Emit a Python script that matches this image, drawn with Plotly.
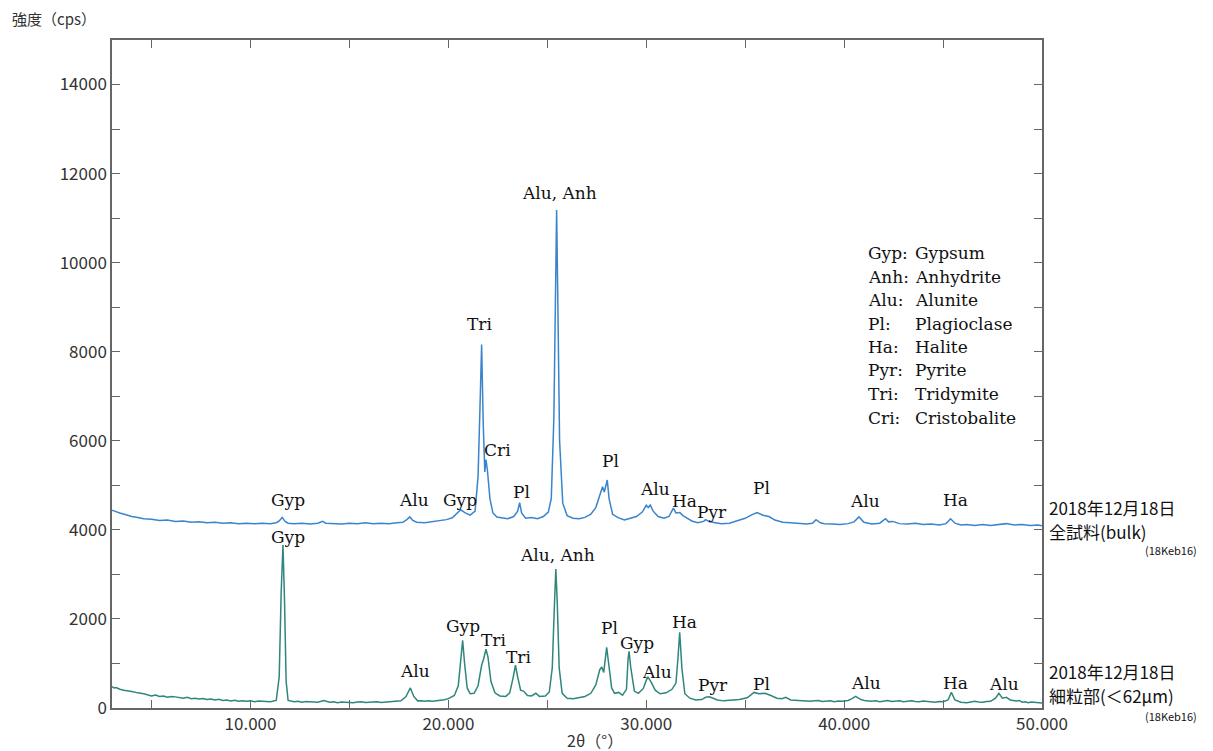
import plotly.graph_objects as go

# ---- data: (2theta, intensity cps) ----
bulk_pattern = [
    (3.0, 4440), (3.1, 4420), (3.2, 4410), (3.4, 4380), (3.6, 4350), (3.8, 4330), (4.0, 4300),
    (4.3, 4280), (4.6, 4250), (5.0, 4240), (5.4, 4210), (5.8, 4220), (6.2, 4190), (6.6, 4200),
    (7.0, 4170), (7.4, 4180), (7.8, 4160), (8.2, 4170), (8.6, 4150), (9.0, 4160), (9.4, 4140),
    (9.8, 4150), (10.2, 4140), (10.6, 4150), (11.0, 4140), (11.3, 4160), (11.45, 4200),
    (11.6, 4280), (11.75, 4190), (11.9, 4150), (12.2, 4140), (12.6, 4150), (13.0, 4130),
    (13.4, 4150), (13.65, 4190), (13.8, 4150), (14.2, 4140), (14.6, 4130), (15.0, 4150),
    (15.4, 4140), (15.8, 4160), (16.2, 4140), (16.6, 4150), (17.0, 4140), (17.4, 4160),
    (17.7, 4170), (17.9, 4230), (18.05, 4290), (18.2, 4210), (18.4, 4170), (18.8, 4160),
    (19.2, 4180), (19.6, 4200), (19.9, 4230), (20.2, 4270), (20.45, 4370), (20.62, 4450),
    (20.85, 4380), (21.1, 4330), (21.35, 4420), (21.5, 5200), (21.6, 6800), (21.68, 8160),
    (21.76, 6400), (21.84, 5300), (21.9, 5580), (21.97, 5350), (22.1, 4700), (22.25, 4380),
    (22.45, 4290), (22.7, 4270), (23.0, 4250), (23.3, 4300), (23.5, 4420), (23.6, 4610),
    (23.7, 4380), (23.9, 4260), (24.2, 4280), (24.5, 4250), (24.8, 4300), (25.05, 4400),
    (25.2, 4700), (25.33, 6500), (25.42, 10200), (25.47, 11180), (25.52, 9500), (25.62, 6000),
    (25.78, 4600), (26.0, 4320), (26.3, 4260), (26.6, 4250), (26.9, 4280), (27.2, 4350),
    (27.45, 4500), (27.65, 4800), (27.79, 4970), (27.88, 4850), (27.95, 5000), (28.03, 5120),
    (28.12, 4700), (28.3, 4350), (28.6, 4270), (28.9, 4220), (29.2, 4260), (29.5, 4300),
    (29.8, 4400), (30.0, 4550), (30.1, 4500), (30.2, 4560), (30.35, 4420), (30.6, 4300),
    (30.9, 4260), (31.15, 4300), (31.37, 4490), (31.5, 4380), (31.7, 4390), (31.85, 4320),
    (32.0, 4280), (32.3, 4200), (32.6, 4160), (32.9, 4190), (33.0, 4230), (33.2, 4180),
    (33.5, 4160), (33.8, 4140), (34.2, 4150), (34.6, 4200), (35.0, 4260), (35.3, 4330),
    (35.6, 4390), (35.9, 4330), (36.2, 4300), (36.5, 4220), (36.9, 4170), (37.3, 4160),
    (37.7, 4140), (38.1, 4130), (38.4, 4150), (38.58, 4230), (38.8, 4160), (39.0, 4140),
    (39.4, 4130), (39.8, 4120), (40.2, 4140), (40.5, 4180), (40.75, 4290), (41.0, 4170),
    (41.4, 4130), (41.8, 4150), (42.09, 4250), (42.25, 4180), (42.45, 4190), (42.8, 4140),
    (43.2, 4130), (43.6, 4150), (44.0, 4120), (44.4, 4130), (44.8, 4110), (45.15, 4140),
    (45.38, 4250), (45.6, 4150), (45.9, 4110), (46.2, 4120), (46.6, 4100), (47.0, 4120),
    (47.4, 4100), (47.8, 4120), (48.2, 4140), (48.6, 4110), (49.0, 4120), (49.4, 4100),
    (49.8, 4110), (50.0, 4090),
]

fine_pattern = [
    (3.0, 480), (3.1, 450), (3.2, 460), (3.4, 420), (3.6, 400), (3.8, 390), (4.0, 370),
    (4.3, 340), (4.6, 320), (5.0, 270), (5.2, 290), (5.4, 260), (5.6, 270), (5.8, 240),
    (6.0, 260), (6.2, 250), (6.4, 230), (6.6, 220), (6.8, 240), (7.0, 210), (7.2, 220),
    (7.4, 200), (7.6, 215), (7.8, 190), (8.0, 200), (8.2, 180), (8.4, 195), (8.6, 170),
    (8.8, 180), (9.0, 160), (9.2, 175), (9.4, 150), (9.6, 165), (9.8, 150), (10.0, 160),
    (10.2, 140), (10.4, 155), (10.6, 150), (10.8, 135), (11.0, 140), (11.3, 170), (11.45, 700),
    (11.55, 2600), (11.64, 3660), (11.72, 2400), (11.8, 600), (11.9, 170), (12.2, 140),
    (12.4, 150), (12.6, 130), (12.8, 145), (13.0, 140), (13.2, 125), (13.4, 130), (13.7, 170),
    (14.0, 130), (14.2, 140), (14.4, 120), (14.6, 135), (14.8, 130), (15.0, 115), (15.2, 120),
    (15.4, 135), (15.6, 140), (15.8, 125), (16.0, 130), (16.2, 145), (16.4, 140), (16.6, 125),
    (16.8, 130), (17.0, 145), (17.2, 140), (17.4, 150), (17.6, 160), (17.85, 250),
    (18.08, 450), (18.25, 260), (18.45, 160), (18.65, 165), (18.8, 150), (19.0, 160),
    (19.2, 150), (19.4, 165), (19.6, 170), (19.8, 185), (20.0, 210),
    (20.3, 280), (20.5, 500), (20.63, 1100), (20.72, 1520), (20.82, 1000), (20.95, 450),
    (21.1, 320), (21.3, 330), (21.5, 500), (21.68, 960), (21.78, 1100), (21.9, 1320),
    (22.0, 1150), (22.15, 600), (22.35, 340), (22.6, 270), (22.9, 260), (23.1, 340), (23.28, 700),
    (23.39, 960), (23.5, 700), (23.65, 400), (23.8, 380), (24.0, 280), (24.2, 270), (24.42, 330),
    (24.6, 260), (24.9, 270), (25.1, 360), (25.25, 900), (25.35, 2200), (25.43, 3120),
    (25.5, 2400), (25.6, 900), (25.75, 330), (26.0, 220), (26.3, 210), (26.6, 230), (26.9, 260),
    (27.2, 330), (27.45, 520), (27.65, 860), (27.75, 920), (27.85, 800), (27.95, 1250),
    (28.0, 1360), (28.1, 1000), (28.25, 450), (28.4, 330), (28.6, 350), (28.8, 290), (29.0, 420),
    (29.08, 1100), (29.13, 1270), (29.22, 900), (29.4, 380), (29.6, 330), (29.85, 440),
    (30.0, 620), (30.08, 700), (30.25, 580), (30.45, 400), (30.7, 320), (31.0, 340), (31.3, 420),
    (31.5, 560), (31.6, 1100), (31.69, 1700), (31.8, 900), (31.95, 320), (32.2, 220),
    (32.5, 180), (32.8, 190), (33.0, 240), (33.19, 250), (33.35, 220), (33.6, 180), (33.9, 160),
    (34.3, 170), (34.7, 190), (35.1, 230), (35.3, 290), (35.45, 350), (35.7, 320), (36.0, 330),
    (36.3, 280), (36.6, 220), (36.85, 210), (37.05, 240), (37.3, 180), (37.6, 170), (37.9, 160),
    (38.1, 170), (38.3, 150), (38.5, 160), (38.7, 170), (38.9, 145), (39.1, 150), (39.3, 160),
    (39.5, 140), (39.7, 155), (39.9, 150), (40.2, 170), (40.4, 210),
    (40.58, 260), (40.85, 190), (41.1, 160), (41.4, 150), (41.6, 160), (41.8, 140), (42.0, 150),
    (42.2, 170), (42.4, 145), (42.6, 150), (42.8, 160), (43.0, 140), (43.2, 150), (43.4, 160),
    (43.6, 145), (43.8, 140), (44.0, 155), (44.2, 150), (44.4, 140), (44.6, 130), (44.8, 145),
    (45.0, 140), (45.25, 180),
    (45.42, 350), (45.6, 180), (45.9, 130), (46.2, 120), (46.4, 140), (46.6, 150), (46.8, 135),
    (47.0, 130), (47.2, 145), (47.4, 150), (47.65, 220), (47.82, 330), (48.0, 220), (48.2, 240),
    (48.4, 180), (48.7, 160), (48.85, 170), (49.0, 130), (49.15, 140), (49.3, 120), (49.45, 135),
    (49.6, 130), (49.8, 120), (50.0, 110),
]

# peak labels: (text, 2theta, intensity)
bulk_labels = [
    ("Gyp", 11.88, 4674), ("Alu", 18.27, 4674), ("Gyp", 20.58, 4674), ("Tri", 21.59, 8628),
    ("Cri", 22.5, 5797), ("Pl", 23.69, 4860), ("Alu, Anh", 25.62, 11565), ("Pl", 28.2, 5557),
    ("Alu", 30.46, 4921), ("Ha", 31.92, 4651), ("Pyr", 33.34, 4411), ("Pl", 35.84, 4943),
    ("Alu", 41.05, 4651), ("Ha", 45.62, 4674),
]
fine_labels = [
    ("Gyp", 11.88, 3849), ("Alu", 18.32, 838), ("Gyp", 20.75, 1849), ("Tri", 22.3, 1528),
    ("Tri", 23.56, 1153), ("Alu, Anh", 25.51, 3438), ("Pl", 28.15, 1804), ("Gyp", 29.52, 1467),
    ("Alu", 30.53, 816), ("Ha", 31.92, 1939), ("Pyr", 33.35, 517), ("Pl", 35.84, 539),
    ("Alu", 41.08, 555), ("Ha", 45.65, 568), ("Alu", 48.1, 539),
]

legend_abbr = ["Gyp:", "Anh:", "Alu:", "Pl:", "Ha:", "Pyr:", "Tri:", "Cri:"]
legend_names = ["Gypsum", "Anhydrite", "Alunite", "Plagioclase", "Halite", "Pyrite",
                "Tridymite", "Cristobalite"]

y_tick_values = list(range(0, 15000, 1000))
y_tick_labels = [str(v) if v % 2000 == 0 else "" for v in y_tick_values]
x_tick_values = list(range(5, 55, 5))
x_tick_labels = [f"{v}.000" if v % 10 == 0 else "" for v in x_tick_values]

# ---- figure ----
W, H = 1213, 751
L, R, T, B = 112, 1042, 40, 708

def px_x(p):
    return (p - L) / (R - L)

def px_y(p):
    return (B - p) / (B - T)

fig = go.Figure()
fig.add_trace(go.Scatter(x=[p[0] for p in bulk_pattern], y=[p[1] for p in bulk_pattern],
                         mode="lines", line=dict(color="#3a84cc", width=1.5), showlegend=False))
fig.add_trace(go.Scatter(x=[p[0] for p in fine_pattern], y=[p[1] for p in fine_pattern],
                         mode="lines", line=dict(color="#2f867c", width=1.5), showlegend=False))

serif = "DejaVu Serif"
sans = "Noto Sans CJK JP"
ann = []
for txt, xv, yv in bulk_labels + fine_labels:
    ann.append(dict(x=xv, y=yv, xref="x", yref="y", text=txt, showarrow=False,
                    xanchor="center", yanchor="middle",
                    font=dict(family=serif, size=17, color="#111")))

legend_rows = [253, 276.5, 300, 323.5, 347, 370.5, 394, 418]
for a, n, py in zip(legend_abbr, legend_names, legend_rows):
    ann.append(dict(x=px_x(866), y=px_y(py), xref="paper", yref="paper", text=a,
                    showarrow=False, xanchor="left", yanchor="middle",
                    font=dict(family=serif, size=17, color="#111")))
    ann.append(dict(x=px_x(913), y=px_y(py), xref="paper", yref="paper", text=n,
                    showarrow=False, xanchor="left", yanchor="middle",
                    font=dict(family=serif, size=17, color="#111")))

side_labels = [
    ("2018年12月18日", 1047, 507, 17, "left"),
    ("全試料(bulk)", 1047, 531, 17, "left"),
    ("(18Keb16)", 1199, 550, 11, "right"),
    ("2018年12月18日", 1047, 671, 17, "left"),
    ("細粒部(＜62μm)", 1047, 695, 17, "left"),
    ("(18Keb16)", 1199, 716, 11, "right"),
]
for txt, px, py, sz, anc in side_labels:
    ann.append(dict(x=px_x(px), y=px_y(py), xref="paper", yref="paper", text=txt,
                    showarrow=False, xanchor=anc, yanchor="middle",
                    font=dict(family=sans, size=sz, color="#111")))

ann.append(dict(x=px_x(10), y=px_y(19), xref="paper", yref="paper", text="強度（cps）",
                showarrow=False, xanchor="left", yanchor="middle",
                font=dict(family=sans, size=15, color="#333")))
ann.append(dict(x=px_x(595), y=px_y(740), xref="paper", yref="paper", text="2θ（°）",
                showarrow=False, xanchor="center", yanchor="middle",
                font=dict(family=sans, size=16, color="#333")))

axis_common = dict(showline=True, linecolor="#666", linewidth=1.5, mirror="allticks",
                   ticks="inside", ticklen=8, tickwidth=1.2, tickcolor="#666",
                   showgrid=False, zeroline=False,
                   tickfont=dict(family=sans, size=17, color="#333"))

fig.update_layout(
    width=W, height=H,
    margin=dict(l=L, r=W - R, t=T, b=H - B),
    paper_bgcolor="white", plot_bgcolor="white",
    xaxis=dict(range=[3, 50], tickmode="array", tickvals=x_tick_values,
               ticktext=x_tick_labels, **axis_common),
    yaxis=dict(range=[0, 15000], tickmode="array", tickvals=y_tick_values,
               ticktext=y_tick_labels, **axis_common),
    annotations=ann,
    showlegend=False,
)

fig.write_html("out.html", config={"displayModeBar": False},
               post_script="document.body.style.margin='0px';document.body.style.overflow='hidden';")
